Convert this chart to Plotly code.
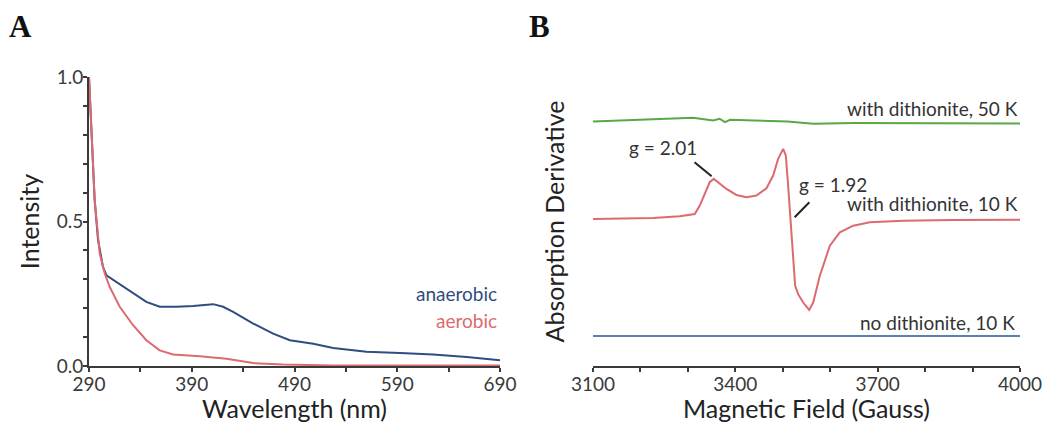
import plotly.graph_objects as go

# ---------------- Panel A data ----------------
wl_anaerobic = [290, 292.3, 295.5, 298.8, 303.6, 306.9, 316.6, 332.9, 345.8, 358.8, 375, 391.3,
                410.8, 420.5, 430.3, 449.8, 469.2, 485.5, 508.2, 527.7, 560, 592.6, 625, 657.6, 690]
int_anaerobic = [1.0, 0.806, 0.575, 0.436, 0.343, 0.314, 0.291, 0.251, 0.222, 0.205, 0.205, 0.208,
                 0.214, 0.205, 0.187, 0.147, 0.112, 0.089, 0.077, 0.062, 0.049, 0.045, 0.040, 0.031, 0.020]
wl_aerobic = [290, 292.3, 295.5, 300.4, 305.3, 310.1, 319.9, 332.9, 345.8, 358.8, 371.8, 397.8,
              423.8, 449.8, 479, 527.7, 690]
int_aerobic = [1.0, 0.83, 0.575, 0.39, 0.32, 0.274, 0.205, 0.141, 0.089, 0.054, 0.040, 0.034,
               0.025, 0.010, 0.005, 0.002, 0.002]
a_xticks = [290, 390, 490, 590, 690]
a_yticks = [0.0, 0.5, 1.0]
a_yticklabels = ["0.0", "0.5", "1.0"]

# ---------------- Panel B data ----------------
field_10k = [3100, 3226.6, 3282.8, 3314.5, 3325, 3335.5, 3346, 3354.5, 3363.7, 3381.3, 3402.3, 3423.4,
             3444.5, 3465.6, 3479.7, 3490.2, 3500.8, 3506.4, 3511.3, 3516.3, 3521.9, 3526.1, 3532.4,
             3543, 3555.6, 3564.1, 3578.1, 3599.2, 3620.3, 3648.4, 3683.6, 3753.9, 3859.4, 4000]
deriv_10k = [4.40, 4.43, 4.48, 4.55, 4.80, 5.15, 5.50, 5.60, 5.50, 5.30, 5.12, 5.05,
             5.10, 5.32, 5.70, 6.20, 6.50, 6.30, 5.40, 4.40, 3.20, 2.40, 2.15,
             1.90, 1.68, 1.90, 2.70, 3.60, 4.00, 4.20, 4.30, 4.35, 4.37, 4.38]
field_50k = [3100, 3226.6, 3311, 3353, 3367, 3378, 3389, 3440, 3510, 3564, 3650, 4000]
deriv_50k = [7.32, 7.38, 7.43, 7.35, 7.40, 7.30, 7.37, 7.35, 7.32, 7.25, 7.27, 7.26]
field_none = [3100, 4000]
deriv_none = [0.90, 0.90]
b_xticks = [3100, 3400, 3700, 4000]

BLUE_A = "#2f4d80"
RED = "#dc6a6e"
GREEN = "#5aa845"
BLUE_B = "#5b80b4"
AX = "#3a3a3a"
FONT = "Lato, Open Sans, sans-serif"

# page body has an 8px margin: lay the figure out in window pixels, shifted by it
OFF = 8
W, H = 1050 - 2 * OFF, 431 - 2 * OFF


def px(xp):
    return (xp - OFF) / W


def py(yp):
    return 1 - (yp - OFF) / H


fig = go.Figure()
fig.add_trace(go.Scatter(x=wl_anaerobic, y=int_anaerobic, mode="lines",
                         line=dict(color=BLUE_A, width=2), xaxis="x", yaxis="y"))
fig.add_trace(go.Scatter(x=wl_aerobic, y=int_aerobic, mode="lines",
                         line=dict(color=RED, width=2), xaxis="x", yaxis="y"))
fig.add_trace(go.Scatter(x=field_50k, y=deriv_50k, mode="lines",
                         line=dict(color=GREEN, width=2), xaxis="x2", yaxis="y2"))
fig.add_trace(go.Scatter(x=field_10k, y=deriv_10k, mode="lines",
                         line=dict(color=RED, width=2), xaxis="x2", yaxis="y2"))
fig.add_trace(go.Scatter(x=field_none, y=deriv_none, mode="lines",
                         line=dict(color=BLUE_B, width=2), xaxis="x2", yaxis="y2"))

ydom = [py(366), py(77)]

tickfont = dict(family=FONT, size=19, color="#3a3a3a")
titlefont = dict(family=FONT, size=25, color="#222222")

common = dict(showline=True, linecolor=AX, linewidth=2, ticks="", showgrid=False,
              zeroline=False, tickfont=tickfont, automargin=False,
              ticklabeloverflow="allow")

fig.update_layout(
    width=W, height=H,
    margin=dict(l=0, r=0, t=0, b=0, autoexpand=False),
    paper_bgcolor="white", plot_bgcolor="white",
    showlegend=False,
    xaxis=dict(common, domain=[px(89), px(500)], range=[290, 690], tickvals=a_xticks,
               ticktext=[str(v) for v in a_xticks],
               minor=dict(dtick=50, tick0=290, ticks="outside", ticklen=4, tickcolor=AX,
                          tickwidth=1.5),
               title=dict(text="Wavelength (nm)", font=titlefont, standoff=8),
               anchor="y"),
    yaxis=dict(common, domain=ydom, range=[0, 1.0], tickvals=a_yticks, ticktext=a_yticklabels,
               minor=dict(dtick=0.1, tick0=0, ticks="outside", ticklen=4, tickcolor=AX,
                          tickwidth=1.5),
               title=dict(text="Intensity", font=titlefont, standoff=10),
               anchor="x"),
    xaxis2=dict(common, domain=[px(593), px(1020)], range=[3100, 4000], tickvals=b_xticks,
                ticktext=[str(v) for v in b_xticks],
                minor=dict(dtick=100, tick0=3100, ticks="outside", ticklen=4, tickcolor=AX,
                           tickwidth=1.5),
                title=dict(text="Magnetic Field (Gauss)", font=titlefont, standoff=8),
                anchor="y2"),
    yaxis2=dict(domain=ydom, range=[0, 8.65], showline=False, showticklabels=False,
                ticks="", showgrid=False, zeroline=False, automargin=False,
                title=dict(text="Absorption Derivative", font=titlefont, standoff=20),
                anchor="x2"),
)

labfont = dict(family=FONT, size=19)
ann = [
    dict(x=px(499), xref="paper", y=py(293), yref="paper",
         text="anaerobic", showarrow=False, xanchor="right", yanchor="middle",
         font=dict(labfont, color=BLUE_A)),
    dict(x=px(499), xref="paper", y=py(320), yref="paper",
         text="aerobic", showarrow=False, xanchor="right", yanchor="middle",
         font=dict(labfont, color=RED)),
    dict(x=px(1020), xref="paper", y=py(109), yref="paper",
         text="with dithionite, 50 K", showarrow=False, xanchor="right", yanchor="middle",
         font=dict(labfont, color="#333333")),
    dict(x=px(1020), xref="paper", y=py(204), yref="paper",
         text="with dithionite, 10 K", showarrow=False, xanchor="right", yanchor="middle",
         font=dict(labfont, color="#333333")),
    dict(x=px(1017), xref="paper", y=py(322), yref="paper",
         text="no dithionite, 10 K", showarrow=False, xanchor="right", yanchor="middle",
         font=dict(labfont, color="#333333")),
    dict(x=px(663), xref="paper", y=py(147), yref="paper",
         text="g = 2.01", showarrow=False, xanchor="center", yanchor="middle",
         font=dict(labfont, color="#333333")),
    dict(x=px(833), xref="paper", y=py(184), yref="paper",
         text="g = 1.92", showarrow=False, xanchor="center", yanchor="middle",
         font=dict(labfont, color="#333333")),
    dict(x=0, xref="paper", y=1, yref="paper", borderpad=0,
         text="<b>A</b>", showarrow=False, xanchor="left", yanchor="top",
         font=dict(family="Liberation Serif, DejaVu Serif, serif", size=31, color="#111111")),
    dict(x=px(539), xref="paper", y=1, yref="paper", borderpad=0,
         text="<b>B</b>", showarrow=False, xanchor="center", yanchor="top",
         font=dict(family="Liberation Serif, DejaVu Serif, serif", size=31, color="#111111")),
]
fig.update_layout(annotations=ann)

fig.add_shape(type="line", xref="x2", yref="y2", x0=3314, y0=6.1, x1=3350, y1=5.68,
              line=dict(color="#222222", width=2))
fig.add_shape(type="line", xref="x2", yref="y2", x0=3556, y0=4.9, x1=3525, y1=4.45,
              line=dict(color="#222222", width=2))

fig.write_html("out.html")
